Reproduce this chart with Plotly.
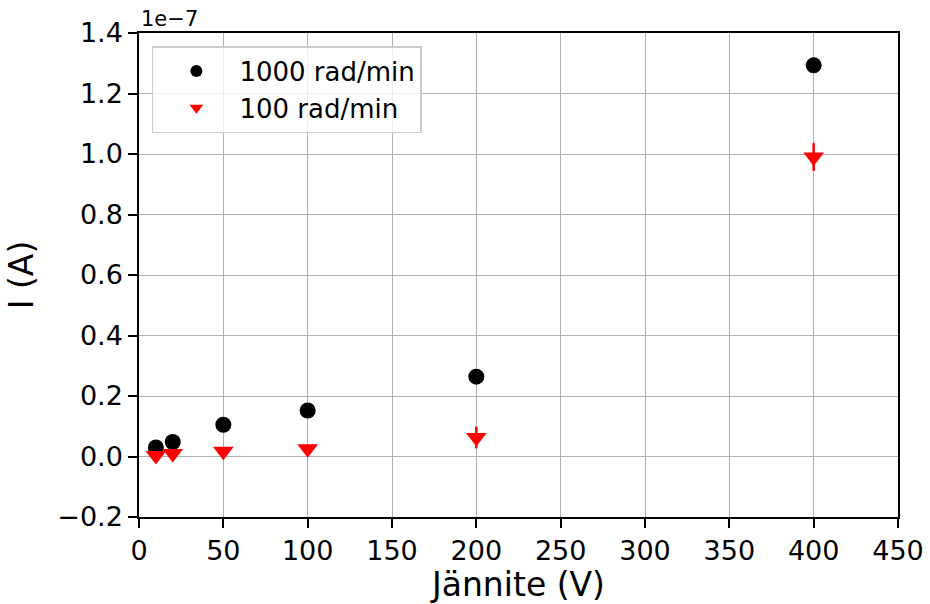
import plotly.graph_objects as go

# Voltage (V)
voltage = [10, 20, 50, 100, 200, 400]
# Current in units of 1e-7 A
i_1000 = [0.030, 0.048, 0.105, 0.152, 0.264, 1.293]
err_1000 = [0.003, 0.004, 0.005, 0.006, 0.010, 0.020]
i_100 = [0.003, 0.010, 0.017, 0.026, 0.063, 0.990]
err_100 = [0.003, 0.005, 0.008, 0.012, 0.036, 0.046]

xticks = [0, 50, 100, 150, 200, 250, 300, 350, 400, 450]
yticks = [-0.2, 0.0, 0.2, 0.4, 0.6, 0.8, 1.0, 1.2, 1.4]
ytick_text = ["\u22120.2", "0.0", "0.2", "0.4", "0.6", "0.8", "1.0", "1.2", "1.4"]

fig = go.Figure()
fig.add_trace(go.Scatter(
    x=voltage, y=i_1000, mode="markers", name="1000 rad/min",
    marker=dict(symbol="circle", size=16, color="black"),
    error_y=dict(type="data", array=err_1000, color="black", thickness=2.5, width=0),
))
fig.add_trace(go.Scatter(
    x=voltage, y=i_100, mode="markers", name="100 rad/min",
    marker=dict(symbol="triangle-down", size=18, color="red"),
    error_y=dict(type="data", array=err_100, color="red", thickness=2.5, width=0),
))

axis_common = dict(
    showline=True, linecolor="black", linewidth=1.5, mirror=True,
    ticks="outside", ticklen=9, tickwidth=1.5, tickcolor="black",
    showgrid=True, gridcolor="#b0b0b0", gridwidth=1.3, zeroline=False,
    tickfont=dict(size=27, color="black"), automargin=False,
)

fig.update_layout(
    width=930, height=604,
    margin=dict(l=139, r=32, t=33, b=87),
    paper_bgcolor="white", plot_bgcolor="white",
    font=dict(family="DejaVu Sans", color="black"),
    showlegend=True,
    legend=dict(x=0.017, y=0.973, xanchor="left", yanchor="top",
                bgcolor="rgba(255,255,255,0.8)", bordercolor="#cccccc", borderwidth=1.5,
                font=dict(size=26), itemsizing="constant", itemwidth=76),
    xaxis=dict(range=[0, 450], tickvals=xticks,
               title=dict(text="Jännite (V)", font=dict(size=33), standoff=4),
               **axis_common),
    yaxis=dict(range=[-0.2, 1.4], tickvals=yticks, ticktext=ytick_text,
               title=dict(text="I (A)", font=dict(size=33), standoff=14),
               **axis_common),
    annotations=[dict(text="1e\u22127", x=0, y=1.0, xref="paper", yref="paper",
                      xanchor="left", yanchor="bottom", showarrow=False,
                      font=dict(size=21, color="black"), yshift=0)],
)

fig.write_html("out.html")
